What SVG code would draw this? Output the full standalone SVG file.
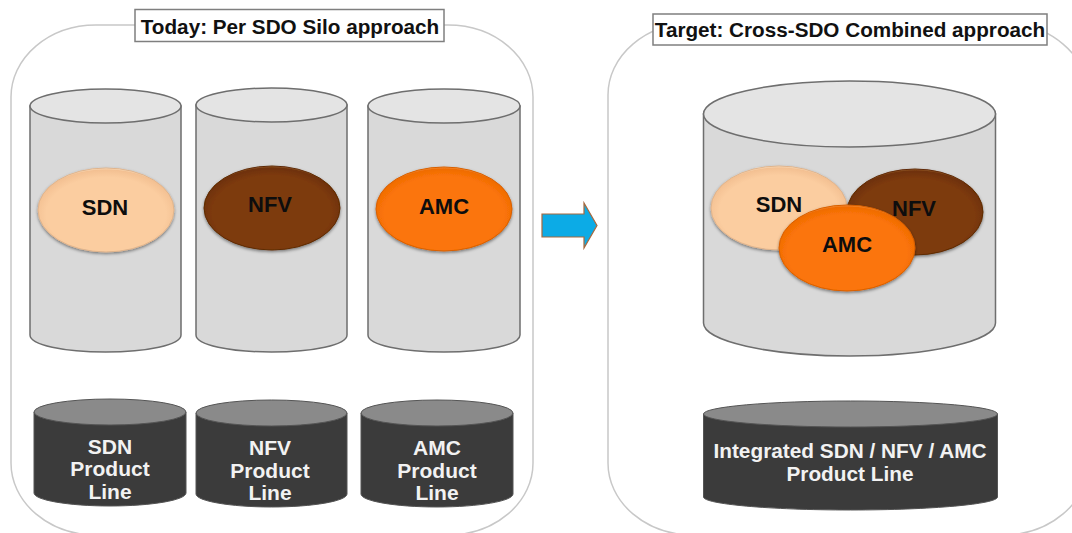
<svg xmlns="http://www.w3.org/2000/svg" width="1072" height="533" viewBox="0 0 1072 533">
<style>
text{font-family:"Liberation Sans",Arial,sans-serif;font-weight:bold;text-anchor:middle;dominant-baseline:central}
.panel{fill:#fff;stroke:#c8c8c8;stroke-width:1.5}
.title{fill:#fff;stroke:#7f7f7f;stroke-width:1.5}
.t{font-size:20.700px;fill:#111}
.l{font-size:22px;fill:#0d0d0d}
.w{font-size:21px;fill:#f2f2f2}
.body{fill:#d9d9d9;stroke:#6e6e6e;stroke-width:1.5}
.top{fill:#e4e4e4;stroke:#6e6e6e;stroke-width:1.5}
.dbody{fill:#3b3b3b;stroke:#555;stroke-width:1}
.dtop{fill:#8a8a8a;stroke:#555;stroke-width:1}
.sdn{fill:url(#gs);stroke:#e0b48c;filter:url(#sh)}
.nfv{fill:url(#gn);stroke:#5e2a06;filter:url(#sh)}
.amc{fill:url(#ga);stroke:#d85f00;filter:url(#sh)}
</style>
<defs>
<radialGradient id="gs" cx=".5" cy=".55" r=".55"><stop offset=".8" stop-color="#fbcda0"/><stop offset=".96" stop-color="#f3c092"/><stop offset="1" stop-color="#fde6c8"/></radialGradient>
<radialGradient id="gn" cx=".5" cy=".55" r=".55"><stop offset=".8" stop-color="#7d3a08"/><stop offset=".96" stop-color="#6e3107"/><stop offset="1" stop-color="#a86a3a"/></radialGradient>
<radialGradient id="ga" cx=".5" cy=".55" r=".55"><stop offset=".8" stop-color="#fb7408"/><stop offset=".96" stop-color="#ef6c04"/><stop offset="1" stop-color="#fb9a4a"/></radialGradient>
<filter id="sh" x="-10%" y="-10%" width="120%" height="125%"><feDropShadow dx="0" dy="1.5" stdDeviation="1.5" flood-color="#000" flood-opacity=".45"/></filter>
</defs>

<g id="panel-today">
<rect class="panel" x="11" y="25" width="522" height="510" rx="85" ry="72"/>
<rect class="title" x="135" y="9.500" width="309" height="32"/>
<text class="t" x="290" y="26">Today: Per SDO Silo approach</text>
</g>
<g id="panel-target">
<rect class="panel" x="608" y="23" width="480" height="512" rx="85" ry="72"/>
<rect class="title" x="653" y="14" width="394" height="31"/>
<text class="t" x="850" y="29">Target: Cross-SDO Combined approach</text>
</g>

<g id="silo-sdn">
<path class="body" d="M30 106V335C30 345 64 352 105.500 352S181 345 181 335V106Z"/>
<ellipse class="top" cx="105.500" cy="106" rx="75.500" ry="17"/>
<ellipse class="sdn" cx="106" cy="210" rx="68" ry="42"/>
<text class="l" x="105" y="207">SDN</text>
</g>
<g id="silo-nfv">
<path class="body" d="M196 105V335C196 345 230 352 271.500 352S347 345 347 335V105Z"/>
<ellipse class="top" cx="271.500" cy="105" rx="75.500" ry="17"/>
<ellipse class="nfv" cx="272" cy="208" rx="68" ry="42"/>
<text class="l" x="270" y="204">NFV</text>
</g>
<g id="silo-amc">
<path class="body" d="M368 106V335C368 345 402 352 444 352S520 345 520 335V106Z"/>
<ellipse class="top" cx="444" cy="106" rx="76" ry="17"/>
<ellipse class="amc" cx="444" cy="209" rx="68" ry="42"/>
<text class="l" x="444" y="206">AMC</text>
</g>

<g id="line-sdn">
<path class="dbody" d="M34 412V493C34 500 68 506 110 506S186 500 186 493V412Z"/>
<ellipse class="dtop" cx="110" cy="412" rx="76" ry="13"/>
<text class="w" x="110" y="446">SDN</text><text class="w" x="110" y="468">Product</text><text class="w" x="110" y="491">Line</text>
</g>
<g id="line-nfv">
<path class="dbody" d="M196 413V494C196 501 230 507 271.500 507S347 501 347 494V413Z"/>
<ellipse class="dtop" cx="271.500" cy="413" rx="75.500" ry="13"/>
<text class="w" x="270" y="447">NFV</text><text class="w" x="270" y="470">Product</text><text class="w" x="270" y="492">Line</text>
</g>
<g id="line-amc">
<path class="dbody" d="M361 413V494C361 501 395 507 437 507S513 501 513 494V413Z"/>
<ellipse class="dtop" cx="437" cy="413" rx="76" ry="13"/>
<text class="w" x="437" y="447">AMC</text><text class="w" x="437" y="470">Product</text><text class="w" x="437" y="492">Line</text>
</g>

<g id="connectors">
<path d="M542 214H584V203L597 225.500L584 248V237H542Z" fill="#0cabe6" stroke="#a8683c" stroke-width="1.200"/>
</g>

<g id="silo-combined">
<path class="body" d="M703.500 114V323C703.500 341 769 356 849.500 356S995.500 341 995.500 323V114Z"/>
<ellipse class="top" cx="849.500" cy="114" rx="146" ry="33"/>
<ellipse class="sdn" cx="779" cy="208" rx="68" ry="42"/>
<ellipse class="nfv" cx="915" cy="212" rx="68" ry="43"/>
<ellipse class="amc" cx="847" cy="248" rx="68" ry="43"/>
<text class="l" x="779" y="204">SDN</text>
<text class="l" x="914" y="208">NFV</text>
<text class="l" x="847" y="244">AMC</text>
</g>
<g id="line-integrated">
<path class="dbody" d="M703.500 414V497C703.500 504 769 510 850.500 510S997.500 504 997.500 497V414Z"/>
<ellipse class="dtop" cx="850.500" cy="414" rx="147" ry="13"/>
<text class="w" x="850" y="450" style="font-size:20.800px">Integrated SDN / NFV / AMC</text>
<text class="w" x="850" y="473" style="font-size:20.800px">Product Line</text>
</g>
</svg>
